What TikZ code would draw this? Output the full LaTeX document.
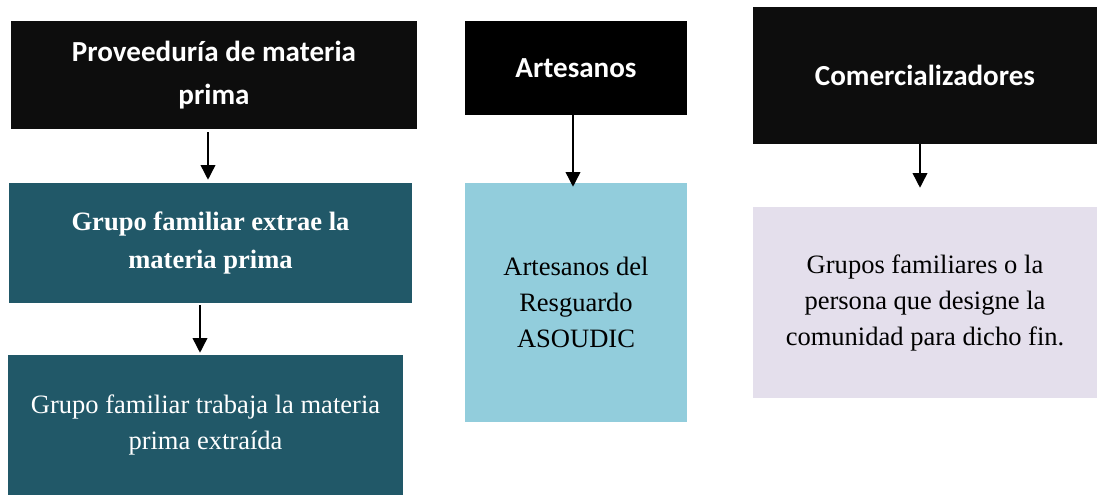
\documentclass[tikz,border=0pt]{standalone}
\usepackage{fontspec}
\setmainfont{Liberation Serif}
\newfontfamily\calibri{Carlito}
\usepackage{tikz}
\usetikzlibrary{arrows.meta, positioning}
\definecolor{negro}{HTML}{0D0D0D}
\definecolor{petroleo}{HTML}{215868}
\definecolor{celeste}{HTML}{92CDDC}
\definecolor{lila}{HTML}{E4DFEC}
\newdimen\pxu \pxu=0.75pt

\tikzset{
  titulo/.style={fill=negro, text=white, align=center, inner sep=0pt,
    font=\calibri\bfseries\fontsize{21.8}{32}\selectfont},
  caja/.style={align=center, inner sep=0pt, font=\fontsize{19.9}{27}\selectfont},
  cajanegrita/.style={caja, font=\fontsize{19.9}{28.5}\selectfont\bfseries},
  flecha/.style={-{Triangle[width=11pt,length=11pt]}, line width=1.1pt}
}

\begin{document}
\begin{tikzpicture}[x=0.75pt, y=-0.75pt]
    \useasboundingbox (0,0) rectangle (1097,495);

    % Encabezados
    \node[titulo, minimum width=406\pxu, minimum height=108\pxu] (prov) at (214,75) {Proveeduría de materia\\prima};
    \node[titulo, fill=black, minimum width=222\pxu, minimum height=94\pxu] (art) at (576,68) {Artesanos};
    \node[titulo, minimum width=344\pxu, minimum height=137\pxu] (com) at (925,75.5) {Comercializadores};

    % Cajas de abajo
    \node[cajanegrita, fill=petroleo, text=white, minimum width=403\pxu, minimum height=120\pxu] (ext) at (210.5,243) {Grupo familiar extrae la\\materia prima};
    \node[caja, fill=petroleo, text=white, minimum width=395\pxu, minimum height=140\pxu] (trab) at (205.5,425) {Grupo familiar trabaja la materia\\prima extraída};
    \node[caja, fill=celeste, minimum width=222\pxu, minimum height=239\pxu] (resg) at (576,302.5) {Artesanos del\\Resguardo\\ASOUDIC};
    \node[caja, fill=lila, minimum width=344\pxu, minimum height=191\pxu] (lav) at (925,302.5) {Grupos familiares o la\\persona que designe la\\comunidad para dicho fin.};

    % Flechas
    \draw[flecha] ([xshift=-6\pxu, yshift=-3\pxu]prov.south) -- ([xshift=-2.5\pxu, yshift=3\pxu]ext.north);
    \draw[flecha] ([xshift=-10.5\pxu, yshift=-2\pxu]ext.south) -- ([xshift=-5.5\pxu, yshift=2\pxu]trab.north);
    \draw[flecha] ([xshift=-3\pxu]art.south) -- ([xshift=-3\pxu, yshift=-4\pxu]resg.north);
    \draw[flecha] ([xshift=-5\pxu]com.south) -- ([xshift=-5\pxu, yshift=19\pxu]lav.north);

\end{tikzpicture}
\end{document}
